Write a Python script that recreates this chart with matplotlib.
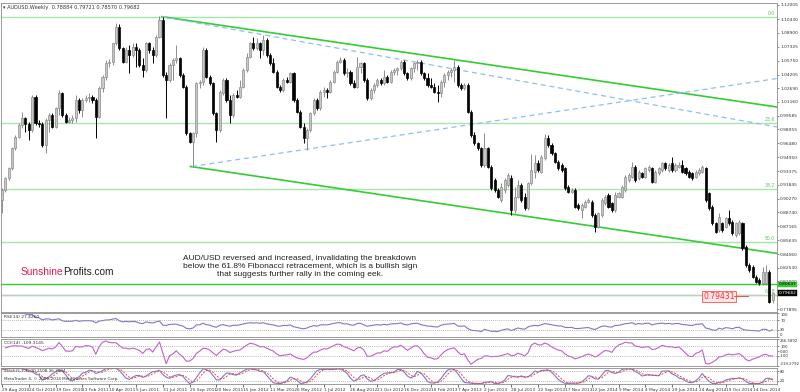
import numpy as np
import pandas as pd
import matplotlib
matplotlib.use("Agg")
import matplotlib.pyplot as plt

# weekly AUDUSD candles (29 Aug 2010 .. Jan 2015)
opens = [
    .9013, .9125, .9256, .9368, .9592, .9723, .9854, .9929, .9866, .9798,
    1.0172, .9873, .9866, .9630, .9910, .9966, .9835, 1.0041, 1.0209, .9966,
    .9892, .9910, .9929, 1.0135, 1.0022, 1.0135, 1.0153, 1.0172, 1.0135, .9948,
    1.0266, 1.0396, 1.0546, 1.0565, 1.0770, 1.0957, 1.0714, 1.0565, 1.0696, 1.0640,
    1.0733, 1.0696, 1.0527, 1.0471, 1.0770, 1.0696, 1.0640, 1.0845, 1.1032, 1.0415,
    1.0359, 1.0527, 1.0583, 1.0602, 1.0415, 1.0284, .9761, .9667, .9761, 1.0322,
    1.0340, 1.0696, 1.0396, 1.0322, .9985, .9798, 1.0209, 1.0359, 1.0135, .9966,
    1.0191, 1.0172, 1.0284, 1.0471, 1.0621, 1.0770, 1.0714, 1.0770, 1.0696, 1.0808,
    1.0640, 1.0546, 1.0453, 1.0284, 1.0247, 1.0359, 1.0340, 1.0434, 1.0135, 1.0004,
    .9835, .9705, .9798, .9985, 1.0135, 1.0041, 1.0228, 1.0247, 1.0228, 1.0340,
    1.0453, 1.0565, 1.0583, 1.0434, 1.0453, 1.0322, 1.0284, 1.0509, 1.0546, 1.0359,
    1.0153, 1.0247, 1.0303, 1.0359, 1.0322, 1.0396, 1.0340, 1.0453, 1.0471, 1.0490,
    1.0565, 1.0434, 1.0378, 1.0490, 1.0546, 1.0565, 1.0434, 1.0378, 1.0303, 1.0284,
    1.0228, 1.0209, 1.0340, 1.0415, 1.0453, 1.0471, 1.0509, 1.0303, 1.0266, 1.0303,
    1.0004, .9742, .9648, .9592, .9405, .9592, .9387, .9237, .9125, .9013,
    .9125, .9181, .9256, .8900, .9050, .9181, .9050, .8919, .9200, .9331,
    .9424, .9331, .9480, .9705, .9630, .9536, .9443, .9405, .9368, .9162,
    .9106, .9125, .8957, .8900, .8938, .8994, .8994, .8844, .8713, .8844,
    .8975, .9069, .8975, .8900, .9050, .9050, .9125, .9237, .9274, .9387,
    .9256, .9312, .9274, .9349, .9368, .9218, .9312, .9349, .9424, .9349,
    .9424, .9349, .9387, .9405, .9368, .9331, .9312, .9274, .9312, .9331,
    .9368, .9087, .8938, .8751, .8676, .8751, .8713, .8807, .8769, .8620,
    .8639, .8751, .8489, .8283, .8265, .8152, .8115, .8078, .8078, .8209,
    .78884,
]
highs = [
    .9144, .9274, .9387, .9611, .9742, .9873, 1.0004, .9948, .9892, 1.0191,
    1.0191, .9910, .9892, .9929, .9985, .9985, 1.0060, 1.0247, 1.0228, .9985,
    .9948, .9966, 1.0191, 1.0153, 1.0153, 1.0191, 1.0209, 1.0191, 1.0153, 1.0292,
    1.0415, 1.0583, 1.0591, 1.0778, 1.0995, 1.0987, 1.0733, 1.0733, 1.0752, 1.0770,
    1.0770, 1.0714, 1.0602, 1.0789, 1.0789, 1.0733, 1.0864, 1.1077, 1.1070, 1.0453,
    1.0546, 1.0602, 1.0752, 1.0621, 1.0434, 1.0303, .9779, .9779, 1.0340, 1.0359,
    1.0733, 1.0714, 1.0415, 1.0340, 1.0004, 1.0247, 1.0378, 1.0378, 1.0191, 1.0209,
    1.0247, 1.0359, 1.0490, 1.0658, 1.0789, 1.0845, 1.0827, 1.0789, 1.0864, 1.0827,
    1.0658, 1.0602, 1.0471, 1.0303, 1.0378, 1.0396, 1.0453, 1.0453, 1.0153, 1.0022,
    .9873, .9817, 1.0004, 1.0153, 1.0153, 1.0247, 1.0284, 1.0266, 1.0359, 1.0471,
    1.0583, 1.0621, 1.0602, 1.0490, 1.0471, 1.0359, 1.0621, 1.0565, 1.0565, 1.0378,
    1.0266, 1.0322, 1.0378, 1.0378, 1.0471, 1.0415, 1.0471, 1.0490, 1.0509, 1.0583,
    1.0583, 1.0453, 1.0509, 1.0565, 1.0583, 1.0583, 1.0453, 1.0434, 1.0378, 1.0322,
    1.0303, 1.0359, 1.0434, 1.0471, 1.0490, 1.0583, 1.0527, 1.0322, 1.0322, 1.0322,
    1.0022, .9779, .9667, .9611, .9761, .9611, .9405, .9256, .9144, .9200,
    .9256, .9312, .9293, .9162, .9237, .9200, .9087, .9218, .9524, .9518,
    .9461, .9518, .9757, .9742, .9649, .9555, .9461, .9424, .9387, .9181,
    .9144, .9144, .8975, .8975, .9013, .9031, .9013, .8863, .8882, .9031,
    .9069, .9087, .8994, .9106, .9106, .9181, .9293, .9312, .9443, .9405,
    .9349, .9331, .9387, .9405, .9387, .9349, .9387, .9443, .9443, .9424,
    .9499, .9424, .9443, .9461, .9387, .9349, .9331, .9349, .9368, .9405,
    .9387, .9106, .8957, .8769, .8863, .8769, .8826, .8900, .8788, .8769,
    .8788, .8769, .8508, .8302, .8283, .8171, .8134, .8265, .8283, .8227,
    .79721,
]
lows = [
    .8863, .9106, .9237, .9349, .9574, .9705, .9817, .9779, .9686, .9779,
    .9854, .9835, .9611, .9536, .9779, .9817, .9817, .9966, .9948, .9873,
    .9873, .9873, .9892, .9985, .9948, 1.0116, 1.0116, 1.0097, .9705, .9929,
    1.0228, 1.0359, 1.0509, 1.0527, 1.0752, 1.0696, 1.0546, 1.0546, 1.0434, 1.0621,
    1.0509, 1.0509, 1.0396, 1.0453, 1.0658, 1.0546, 1.0621, 1.0827, 1.0396, .9929,
    1.0340, 1.0359, 1.0546, 1.0396, 1.0266, .9742, .9648, .9387, .9723, 1.0266,
    1.0303, 1.0378, 1.0303, .9966, .9667, .9779, 1.0191, 1.0116, .9873, .9948,
    1.0153, 1.0153, 1.0266, 1.0453, 1.0602, 1.0696, 1.0696, 1.0602, 1.0640, 1.0621,
    1.0527, 1.0434, 1.0266, 1.0228, 1.0228, 1.0322, 1.0322, 1.0116, .9985, .9817,
    .9648, .9574, .9779, .9966, 1.0022, 1.0022, 1.0172, 1.0153, 1.0209, 1.0322,
    1.0434, 1.0546, 1.0415, 1.0396, 1.0303, 1.0266, 1.0266, 1.0434, 1.0340, 1.0135,
    1.0135, 1.0209, 1.0284, 1.0303, 1.0303, 1.0322, 1.0322, 1.0415, 1.0415, 1.0471,
    1.0415, 1.0359, 1.0359, 1.0453, 1.0471, 1.0415, 1.0359, 1.0284, 1.0266, 1.0209,
    1.0116, 1.0172, 1.0284, 1.0359, 1.0396, 1.0340, 1.0284, 1.0247, 1.0247, .9985,
    .9723, .9630, .9574, .9387, .9387, .9368, .9125, .9106, .9031, .8994,
    .9087, .9162, .8844, .8863, .9031, .8994, .8900, .8900, .9181, .9256,
    .9331, .9312, .9461, .9611, .9518, .9424, .9349, .9331, .9125, .9087,
    .9087, .8919, .8900, .8807, .8919, .8975, .8826, .8657, .8695, .8826,
    .8957, .8919, .8882, .8882, .9031, .9031, .9106, .9218, .9256, .9218,
    .9237, .9256, .9256, .9331, .9200, .9200, .9293, .9331, .9349, .9331,
    .9331, .9331, .9368, .9312, .9293, .9256, .9237, .9256, .9293, .9312,
    .8994, .8900, .8732, .8639, .8657, .8657, .8695, .8732, .8620, .8601,
    .8620, .8452, .8265, .8209, .8134, .8078, .8059, .8059, .8059, .7853,
    .78570,
]
closes = [
    .9125, .9256, .9368, .9592, .9723, .9854, .9929, .9866, .9798, 1.0172,
    .9873, .9866, .9630, .9910, .9966, .9835, 1.0041, 1.0209, .9966, .9892,
    .9910, .9929, 1.0135, 1.0022, 1.0135, 1.0153, 1.0172, 1.0135, .9948, 1.0266,
    1.0396, 1.0546, 1.0565, 1.0770, 1.0957, 1.0714, 1.0565, 1.0696, 1.0640, 1.0733,
    1.0696, 1.0527, 1.0471, 1.0770, 1.0696, 1.0640, 1.0845, 1.1032, 1.0415, 1.0359,
    1.0527, 1.0583, 1.0602, 1.0415, 1.0284, .9761, .9667, .9761, 1.0322, 1.0340,
    1.0696, 1.0396, 1.0322, .9985, .9798, 1.0228, 1.0359, 1.0135, .9966, 1.0191,
    1.0172, 1.0284, 1.0471, 1.0621, 1.0770, 1.0714, 1.0770, 1.0696, 1.0808, 1.0640,
    1.0546, 1.0453, 1.0284, 1.0247, 1.0359, 1.0340, 1.0434, 1.0135, 1.0004, .9835,
    .9705, .9798, .9985, 1.0135, 1.0041, 1.0228, 1.0247, 1.0228, 1.0340, 1.0453,
    1.0565, 1.0583, 1.0434, 1.0453, 1.0322, 1.0284, 1.0509, 1.0546, 1.0359, 1.0153,
    1.0247, 1.0303, 1.0359, 1.0322, 1.0396, 1.0340, 1.0453, 1.0471, 1.0490, 1.0565,
    1.0434, 1.0378, 1.0490, 1.0546, 1.0565, 1.0434, 1.0378, 1.0303, 1.0284, 1.0228,
    1.0209, 1.0340, 1.0415, 1.0453, 1.0471, 1.0509, 1.0303, 1.0266, 1.0303, 1.0004,
    .9742, .9648, .9592, .9405, .9592, .9387, .9144, .9125, .9050, .9162,
    .9237, .9293, .8900, .9050, .9181, .9013, .8919, .9200, .9349, .9424,
    .9349, .9499, .9705, .9630, .9536, .9443, .9368, .9349, .9144, .9106,
    .9125, .8938, .8919, .8957, .8994, .9013, .8844, .8713, .8863, .9013,
    .9050, .8938, .8900, .9069, .9087, .9162, .9274, .9293, .9387, .9237,
    .9331, .9274, .9368, .9387, .9218, .9331, .9368, .9424, .9368, .9405,
    .9349, .9405, .9405, .9331, .9312, .9274, .9256, .9331, .9349, .9387,
    .9013, .8919, .8751, .8657, .8826, .8676, .8807, .8751, .8639, .8751,
    .8769, .8470, .8283, .8227, .8152, .8096, .8078, .8209, .8209, .7872,
    .79682,
]

date_labels = ["29 Aug 2010", "24 Oct 2010", "19 Dec 2010", "13 Feb 2011", "10 Apr 2011",
               "5 Jun 2011", "31 Jul 2011", "25 Sep 2011", "20 Nov 2011", "15 Jan 2012",
               "11 Mar 2012", "6 May 2012", "1 Jul 2012", "26 Aug 2012", "21 Oct 2012",
               "16 Dec 2012", "10 Feb 2013", "7 Apr 2013", "2 Jun 2013", "28 Jul 2013",
               "22 Sep 2013", "17 Nov 2013", "12 Jan 2014", "9 Mar 2014", "4 May 2014",
               "29 Jun 2014", "24 Aug 2014", "19 Oct 2014", "14 Dec 2014"]
price_ticks = [1.12005, 1.10430, 1.08900, 1.07325, 1.05750, 1.04205, 1.02690, 1.01160,
               0.99585, 0.98055, 0.96480, 0.94950, 0.93375, 0.91845, 0.90270, 0.88740,
               0.87165, 0.85635, 0.84060, 0.82530, 0.81000, 0.77895]

fib_names = ["0.0", "23.6", "38.2", "50.0", "61.8"]
fib_ratios = [0.0, 0.236, 0.382, 0.5, 0.618]
fib_top, fib_bottom = 1.1070, 0.6020

# trendline anchors (bar index, price)
chan_upper = [(47.7, 1.1070), (231.3, 1.0056)]
chan_lower = [(56.2, 0.9389), (231.3, 0.8413)]
blue_down = [(47.7, 1.1070), (231.3, 0.9832)]
blue_up = [(56.7, 0.9389), (231.3, 1.0376)]
support_level = 0.80647
marked_level = 0.79431

W, H = 800, 392
fig = plt.figure(figsize=(W / 100, H / 100), dpi=100)
fig.patch.set_facecolor("white")


def px_axes(l, t, r, b):
    return fig.add_axes([l / W, 1 - b / H, (r - l) / W, (b - t) / H])


XL = (-0.3, 231.3)
GRID = "#a0a0a0"
ax = px_axes(1, 3, 777, 312)
ax_rsi = px_axes(1, 313, 777, 337)
ax_cci = px_axes(1, 339, 777, 366)
ax_st = px_axes(1, 368, 777, 384)

for a in (ax, ax_rsi, ax_cci, ax_st):
    a.set_xlim(*XL)
    for s in a.spines.values():
        s.set_color("#8c8c8c")
        s.set_linewidth(0.6)
    a.yaxis.tick_right()
    a.tick_params(axis="y", direction="out", length=1.5, width=0.4, labelsize=3.2,
                  pad=0.8, colors="#333333")
    a.set_xticks([])
for a in (ax_rsi, ax_cci, ax_st):
    a.tick_params(axis="y", labelsize=2.8)

# candles
o = np.array(opens); h = np.array(highs); l = np.array(lows); c = np.array(closes)
x = np.arange(len(c))
up = c >= o
ax.vlines(x[up], l[up], h[up], color="#8c8c8c", lw=0.7, zorder=3)
ax.vlines(x[~up], l[~up], h[~up], color="black", lw=0.7, zorder=3)
body = np.maximum(np.abs(c - o), 0.0006)
ax.bar(x[up], body[up], bottom=np.minimum(o, c)[up], width=0.62,
       color="#c8c8c8", edgecolor="#8c8c8c", lw=0.5, zorder=4)
ax.bar(x[~up], body[~up], bottom=np.minimum(o, c)[~up], width=0.62,
       color="black", edgecolor="black", lw=0.5, zorder=4)

ax.set_ylim(0.77560, 1.12229)
ax.set_yticks(price_ticks)
ax.set_yticklabels(["%.5f" % v for v in price_ticks])

# fibonacci retracement
for name, r in zip(fib_names, fib_ratios):
    lvl = fib_top - r * (fib_top - fib_bottom)
    ax.axhline(lvl, color="#a6e6a6", lw=1.0, zorder=1)
    ax.text(230.8, lvl + 0.0007, name, color="#66bb66", fontsize=3.3,
            ha="right", va="bottom", zorder=2)

ax.axhline(support_level, color="#33cc33", lw=1.0, zorder=2)
ax.axhline(marked_level, color="#c8c8c8", lw=1.0, zorder=2)

for pts in (chan_upper, chan_lower):
    (x0, y0), (x1, y1) = pts
    ax.plot([x0, x1], [y0, y1], color="#33cc33", lw=1.2, zorder=2)
for pts in (blue_down, blue_up):
    (x0, y0), (x1, y1) = pts
    ax.plot([x0, x1], [y0, y1], color="#8cc0f0", lw=0.9, dashes=(4, 3), zorder=2)

# price label boxes
ax.text(214, marked_level - 0.0012, "%.5f" % marked_level, color="#ff3030", fontsize=5.5,
        ha="center", va="center", zorder=6,
        bbox=dict(boxstyle="square,pad=0.15", fc="#ffe6e6", ec="#ff5050", lw=0.6))
ax.plot([218.6, 222.5], [marked_level - 0.0012] * 2, color="#ff3030", lw=0.6, zorder=6)
ax.text(1.002, support_level, "%.5f" % support_level, transform=ax.get_yaxis_transform(),
        fontsize=3.2, ha="left", va="center", color="black", clip_on=False,
        bbox=dict(boxstyle="square,pad=0.2", fc="#33cc33", ec="#33cc33", lw=0.3))
ax.text(1.002, closes[-1], "%.5f" % closes[-1], transform=ax.get_yaxis_transform(),
        fontsize=3.2, ha="left", va="center", color="white", clip_on=False,
        bbox=dict(boxstyle="square,pad=0.2", fc="black", ec="black", lw=0.3))

ax.text(0.003, 0.992, "\u25be AUDUSD,Weekly  %.5f %.5f %.5f %.5f" % (opens[-1], highs[-1], lows[-1], closes[-1]),
        transform=ax.transAxes, fontsize=3.6, va="top", ha="left", color="#333333")

# indicators
cs = pd.Series(c); hs = pd.Series(h); ls = pd.Series(l)
d = cs.diff()
g = d.clip(lower=0).ewm(alpha=1 / 14, adjust=False).mean()
lo = (-d.clip(upper=0)).ewm(alpha=1 / 14, adjust=False).mean()
rsi = 100 - 100 / (1 + g / lo)
tp = (hs + ls + cs) / 3
sma = tp.rolling(14, min_periods=2).mean()
md = tp.rolling(14, min_periods=2).apply(lambda v: np.mean(np.abs(v - v.mean())), raw=True)
cci = (tp - sma) / (0.015 * md)
ll5 = ls.rolling(5, min_periods=1).min(); hh5 = hs.rolling(5, min_periods=1).max()
k = 100 * (cs - ll5).rolling(3, min_periods=1).sum() / (hh5 - ll5).rolling(3, min_periods=1).sum()
dline = k.rolling(3, min_periods=1).mean()

dot = dict(color=GRID, lw=0.6, ls=(0, (1, 1.5)))
ax_rsi.plot(x, rsi, color="#7a7ac8", lw=0.8)
ax_rsi.set_ylim(0, 100)
for v in (30, 70):
    ax_rsi.axhline(v, **dot)
ax_rsi.set_yticks([0, 30, 70, 100])
ax_rsi.text(0.004, 0.93, "RSI(14) 27.4260", transform=ax_rsi.transAxes, fontsize=3.2,
            va="top", color="#333333")

ax_cci.plot(x, cci, color="#c060c8", lw=0.8)
ax_cci.set_ylim(-319.2792, 256.5892)
for v in (100, -100):
    ax_cci.axhline(v, **dot)
ax_cci.set_yticks([256.5892, 100, 0, -100, -319.2792])
ax_cci.set_yticklabels(["256.5892", "100", "0.00", "-100", "-319.2792"])
ax_cci.text(0.004, 0.93, "CCI(14) -109.3145", transform=ax_cci.transAxes, fontsize=3.2,
            va="top", color="#333333")

# keep edge labels of stacked panels inside their own panel
for a in (ax_rsi, ax_cci):
    labs = a.get_yticklabels()
    if a is ax_rsi:
        labs[0].set_va("bottom"); labs[-1].set_va("top")
    else:
        labs[0].set_va("top"); labs[-1].set_va("bottom")

ax_st.plot(x, k, color="#7a7ac8", lw=0.8)
ax_st.plot(x, dline, color="#ff4040", lw=0.7, ls=(0, (2, 1.5)))
ax_st.set_ylim(0, 100)
for v in (20, 80):
    ax_st.axhline(v, **dot)
ax_st.set_yticks([20, 80])
ax_st.text(0.004, 0.95, "Stoch(5,3,3) 30.2108 36.3094", transform=ax_st.transAxes,
           fontsize=3.0, va="top", color="#333333")
ax_st.text(0.004, 0.3, "MetaTrader 4, \u00a9 2001-2014 MetaQuotes Software Corp.",
           transform=ax_st.transAxes, fontsize=3.0, va="center", color="#333333")

ax_st.set_xticks(np.arange(0, 8 * len(date_labels), 8))
ax_st.set_xticklabels(date_labels, fontsize=3.1, ha="left", color="#333333")
ax_st.tick_params(axis="x", length=2, width=0.4, pad=1.2, direction="out")

# commentary
fig.text(300 / W, 1 - 266.7 / H,
         "AUD/USD reversed and increased, invalidating the breakdown\n"
         "below the 61.8% Fibonacci retracement, which is a bullish sign\n"
         "that suggests further rally in the coming eek.",
         ha="center", va="center", fontsize=6, family="Liberation Sans",
         color="#222222", linespacing=1.2, multialignment="center")
t1 = fig.text(20.7 / W, 1 - 271.7 / H, "Sunshine", color="#e8174a", fontsize=7.3,
              family="Liberation Sans", va="center")
fig.canvas.draw()
bb = t1.get_window_extent()
fig.text(bb.x1 / W, 1 - 271.7 / H, "Profits.com", color="#222222", fontsize=7.3,
         family="Liberation Sans", va="center")

fig.savefig("out.png", dpi=100)
